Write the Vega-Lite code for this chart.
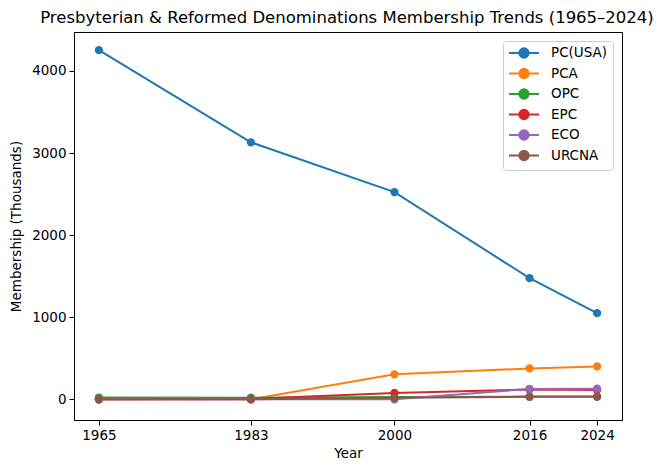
{
  "$schema": "https://vega.github.io/schema/vega-lite/v6.json",
  "width": 548,
  "height": 388,
  "autosize": {"type": "none"},
  "padding": {"left": 74, "top": 32, "right": 44, "bottom": 50},
  "background": "white",
  "title": {
    "text": "Presbyterian & Reformed Denominations Membership Trends (1965–2024)",
    "font": "DejaVu Sans",
    "fontSize": 16.5,
    "fontWeight": "normal",
    "color": "black",
    "anchor": "middle",
    "offset": 6,
    "dx": -1
  },
  "config": {
    "font": "DejaVu Sans",
    "view": {"stroke": "black", "strokeWidth": 1},
    "axis": {
      "grid": false,
      "domainColor": "black",
      "tickColor": "black",
      "tickSize": 5,
      "labelColor": "black",
      "labelFontSize": 13.5,
      "labelFont": "DejaVu Sans",
      "titleFont": "DejaVu Sans",
      "titleFontSize": 13.5,
      "titleFontWeight": "normal",
      "titleColor": "black",
      "labelPadding": 3
    }
  },
  "data": {
    "values": [
      {"year": 1965, "denom": "PC(USA)", "members": 4254},
      {"year": 1983, "denom": "PC(USA)", "members": 3131},
      {"year": 2000, "denom": "PC(USA)", "members": 2525},
      {"year": 2016, "denom": "PC(USA)", "members": 1476},
      {"year": 2024, "denom": "PC(USA)", "members": 1050},
      {"year": 1965, "denom": "PCA", "members": 0},
      {"year": 1983, "denom": "PCA", "members": 0},
      {"year": 2000, "denom": "PCA", "members": 305},
      {"year": 2016, "denom": "PCA", "members": 376},
      {"year": 2024, "denom": "PCA", "members": 401},
      {"year": 1965, "denom": "OPC", "members": 22},
      {"year": 1983, "denom": "OPC", "members": 20},
      {"year": 2000, "denom": "OPC", "members": 27},
      {"year": 2016, "denom": "OPC", "members": 33},
      {"year": 2024, "denom": "OPC", "members": 35},
      {"year": 1965, "denom": "EPC", "members": 0},
      {"year": 1983, "denom": "EPC", "members": 5},
      {"year": 2000, "denom": "EPC", "members": 78},
      {"year": 2016, "denom": "EPC", "members": 120},
      {"year": 2024, "denom": "EPC", "members": 115},
      {"year": 1965, "denom": "ECO", "members": 0},
      {"year": 1983, "denom": "ECO", "members": 0},
      {"year": 2000, "denom": "ECO", "members": 0},
      {"year": 2016, "denom": "ECO", "members": 126},
      {"year": 2024, "denom": "ECO", "members": 130},
      {"year": 1965, "denom": "URCNA", "members": 0},
      {"year": 1983, "denom": "URCNA", "members": 0},
      {"year": 2000, "denom": "URCNA", "members": 18},
      {"year": 2016, "denom": "URCNA", "members": 30},
      {"year": 2024, "denom": "URCNA", "members": 30}
    ]
  },
  "encoding": {
    "x": {
      "field": "year",
      "type": "quantitative",
      "scale": {"domain": [1962.05, 2026.95], "nice": false, "zero": false},
      "axis": {"values": [1965, 1983, 2000, 2016, 2024], "format": "d", "title": "Year", "titlePadding": 5}
    },
    "y": {
      "field": "members",
      "type": "quantitative",
      "scale": {"domain": [-252, 4475], "nice": false, "zero": false},
      "axis": {"values": [0, 1000, 2000, 3000, 4000], "format": "d", "title": "Membership (Thousands)", "titlePadding": 8}
    },
    "color": {
      "field": "denom",
      "type": "nominal",
      "scale": {
        "domain": ["PC(USA)", "PCA", "OPC", "EPC", "ECO", "URCNA"],
        "range": ["#1f77b4", "#ff7f0e", "#2ca02c", "#d62728", "#9467bd", "#8c564b"]
      },
      "legend": {
        "title": null,
        "orient": "top-right",
        "offset": 9,
        "padding": 5,
        "strokeColor": "#cccccc",
        "fillColor": "rgba(255,255,255,0.8)",
        "cornerRadius": 3,
        "labelFontSize": 13.5,
        "labelFont": "DejaVu Sans",
        "labelColor": "black",
        "rowPadding": 2.5,
        "symbolType": "M-2.5,0H2.5M0.78,0A0.78,0.78,0,1,1,-0.78,0A0.78,0.78,0,1,1,0.78,0Z",
        "symbolSize": 144,
        "symbolStrokeWidth": 2,
        "symbolOffset": 9,
        "labelOffset": 20,
        "encode": {
          "symbols": {"update": {"fill": {"scale": "color", "field": "value"}, "stroke": {"scale": "color", "field": "value"}, "strokeWidth": {"value": 2}}}
        }
      }
    }
  },
  "layer": [
    {"mark": {"type": "line", "strokeWidth": 2}},
    {"mark": {"type": "point", "filled": true, "size": 68, "opacity": 1, "shape": "circle"}}
  ]
}
